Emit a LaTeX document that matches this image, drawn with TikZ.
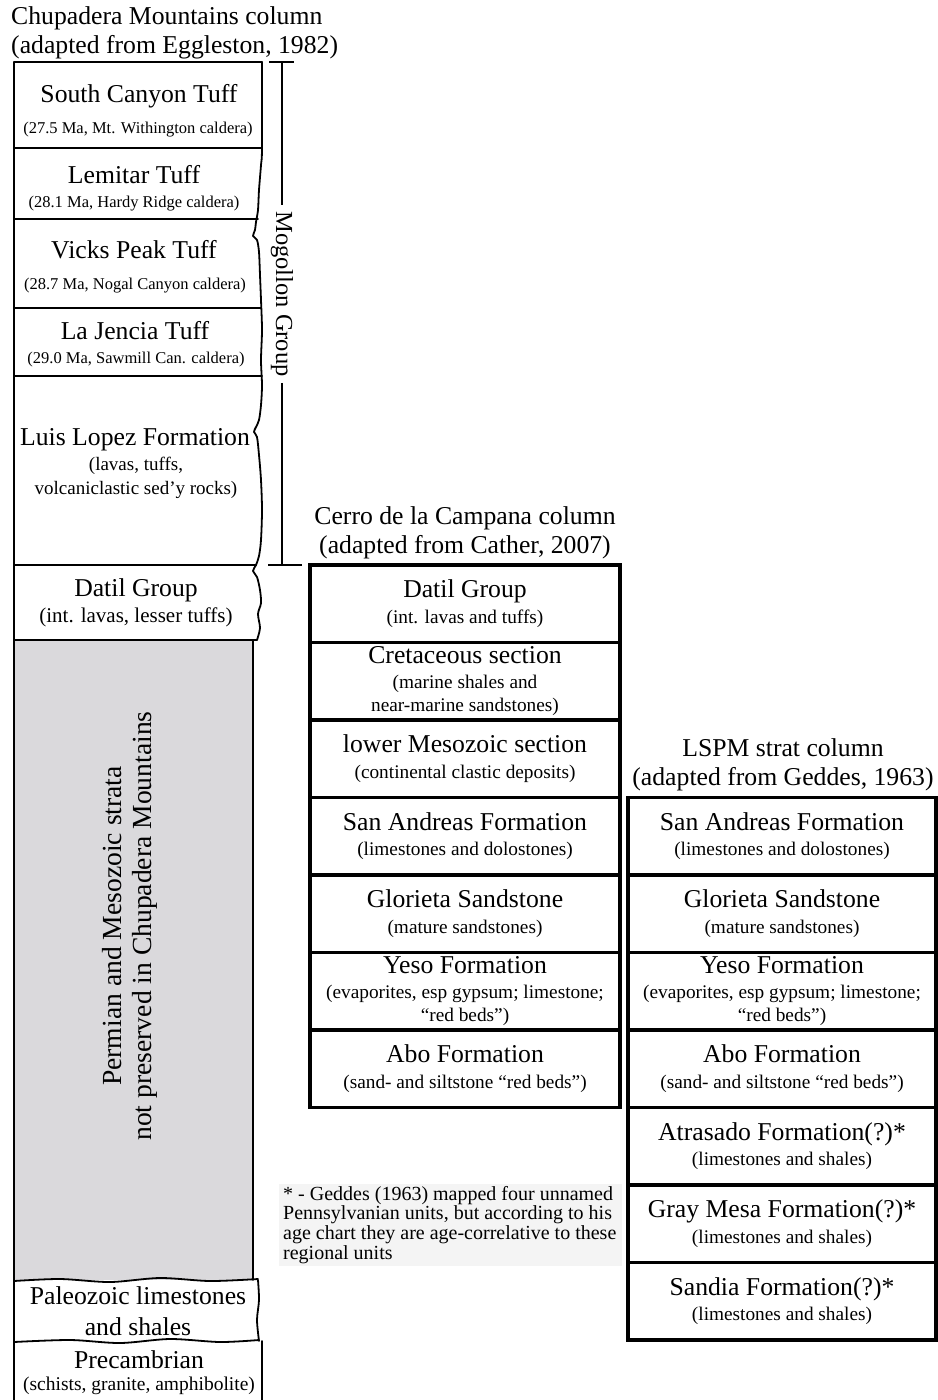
\documentclass[tikz,border=0pt]{standalone}
\usepackage{fontspec}
\setmainfont{Liberation Serif}
\newcommand{\myfs}[2]{\fontsize{#1}{#2}\selectfont}
\newcommand{\mn}[1]{{\myfs{25.7}{28}#1}}
\definecolor{grayfill}{RGB}{218,217,220}
\definecolor{notebg}{RGB}{244,244,244}
\begin{document}
\begin{tikzpicture}[x=1pt,y=-1pt,
  ttl/.style={inner sep=0pt, align=center, font=\myfs{25.7}{29.5}},
  lt/.style={inner sep=0pt, align=center, font=\myfs{25.7}{28}},
  ls/.style={inner sep=0pt, align=center, font=\myfs{#1}{24}},
  colbox/.style={draw, line width=3.2pt, minimum width=310pt, minimum height=77.5pt,
    inner sep=0pt, align=center, font=\myfs{19.3}{23.5}},
  rcolbox/.style={colbox, minimum width=308pt},
  edgeline/.style={line width=1.8pt, line join=round, line cap=round},
  bracket/.style={line width=1.8pt}]
\useasboundingbox[fill=white] (0,0) rectangle (937,1400);

% ---------- Chupadera column ----------
\node[ttl, anchor=west, align=left] (t1) at (11,33) {Chupadera Mountains column\\(adapted from Eggleston, 1982)};

\fill[grayfill] (14,640) rectangle (253,1280);
% left edge and top
\draw[edgeline] (14,1400) -- (14,62) -- (262,62);
% wavy right edge (volcanic units)
\draw[edgeline] plot[smooth, tension=0.5] coordinates {
  (262,62) (262,148) (261,165) (259,190) (258,210) (256,222) (255,230) (253,236)
  (257,240) (259,252) (260,275) (261,300) (262,330) (261,360) (262,385) (261,405)
  (259,420) (256,427) (254,432) (257,437) (259,455) (261,480) (262,510) (261,540)
  (259,556) (256,565) (253,571) (257,577) (260,590) (261,603) (258,614) (260,628) (257,640)};
\draw[edgeline] (253,640) -- (253,1280);
\draw[edgeline] plot[smooth, tension=0.5] coordinates {(258,1280) (259,1300) (257,1320) (259,1341)};
\draw[edgeline] (262,1341) -- (262,1400);
% dividers
\draw[edgeline] (14,148) -- (262,148);
\draw[edgeline] (14,219) -- (258,219);
\draw[edgeline] (14,308) -- (261,308);
\draw[edgeline] (14,376) -- (262,376);
\draw[edgeline] (14,565) -- (256,565);
\draw[edgeline] (14,640) -- (257,640);
\draw[edgeline] plot[smooth, tension=0.5] coordinates {(14,1281) (60,1279) (110,1282) (160,1278) (210,1281) (258,1279)};
\draw[edgeline] plot[smooth, tension=0.5] coordinates {(14,1342) (70,1340) (120,1343) (170,1339) (220,1342) (259,1340)};

\node[lt] (sct) at (139,96) {South Canyon Tuff};
\node[ls=16.5] (scts) at (138,130) {(27.5 Ma, Mt. Withington caldera)};
\node[lt] (lem) at (134,175) {Lemitar Tuff};
\node[ls=16.5] (lems) at (134,204) {(28.1 Ma, Hardy Ridge caldera)};
\node[lt] (vpt) at (134,250) {Vicks Peak Tuff};
\node[ls=16.5] (vpts) at (135,286) {(28.7 Ma, Nogal Canyon caldera)};
\node[lt] (ljt) at (135,331) {La Jencia Tuff};
\node[ls=16.5] (ljts) at (136,360) {(29.0 Ma, Sawmill Can. caldera)};
\node[lt] (llf) at (135,440) {Luis Lopez Formation};
\node[ls=19] (llfs) at (136,478) {(lavas, tuffs,\\volcaniclastic sed’y rocks)};
\node[lt] (dg1) at (136,590) {Datil Group};
\node[ls=21] (dg1s) at (136,617) {(int. lavas, lesser tuffs)};
\node[inner sep=0pt, align=center, rotate=90, font=\myfs{27.6}{30}] (pm) at (130,926)
  {Permian and Mesozoic strata\\not preserved in Chupadera Mountains};
\node[inner sep=0pt, align=center, font=\myfs{25.7}{31}] (pal) at (138,1311) {Paleozoic limestones\\and shales};
\node[lt] (pc) at (139,1360) {Precambrian};
\node[ls=19.5] (pcs) at (139,1386) {(schists, granite, amphibolite)};

% Mogollon Group bracket
\node[lt, rotate=-90, inner sep=6pt, font=\myfs{24.5}{28}] (mog) at (282,294) {Mogollon Group};
\coordinate (mtop) at (282,62);
\coordinate (mbot) at (282,565);
\draw[bracket] (mtop) -- (mog.west);
\draw[bracket] (mog.east) -- (mbot);
\draw[bracket] ([xshift=-13pt]mtop) -- ([xshift=12pt]mtop);
\draw[bracket] ([xshift=-14pt]mbot) -- ([xshift=20pt]mbot);

% ---------- Cerro de la Campana column ----------
\node[ttl] (t2) at (465,533) {Cerro de la Campana column\\(adapted from Cather, 2007)};
\node[colbox] (c1) at (465,603.75) {\mn{Datil Group}\\[2pt](int. lavas and tuffs)};
\node[colbox] (c2) at (465,681.25) {\mn{Cretaceous section}\\[1pt](marine shales and\\near-marine sandstones)};
\node[colbox] (c3) at (465,758.75) {\mn{lower Mesozoic section}\\[2pt](continental clastic deposits)};
\node[colbox] (c4) at (465,836.25) {\mn{San Andreas Formation}\\[2pt](limestones and dolostones)};
\node[colbox] (c5) at (465,913.75) {\mn{Glorieta Sandstone}\\[2pt](mature sandstones)};
\node[colbox] (c6) at (465,991.25) {\mn{Yeso Formation}\\[1pt](evaporites, esp gypsum; limestone;\\“red beds”)};
\node[colbox] (c7) at (465,1068.75) {\mn{Abo Formation}\\[2pt](sand- and siltstone “red beds”)};

% ---------- LSPM column ----------
\node[ttl] (t3) at (783,765) {LSPM strat column\\(adapted from Geddes, 1963)};
\node[rcolbox] (r1) at (782,836.25) {\mn{San Andreas Formation}\\[2pt](limestones and dolostones)};
\node[rcolbox] (r2) at (782,913.75) {\mn{Glorieta Sandstone}\\[2pt](mature sandstones)};
\node[rcolbox] (r3) at (782,991.25) {\mn{Yeso Formation}\\[1pt](evaporites, esp gypsum; limestone;\\“red beds”)};
\node[rcolbox] (r4) at (782,1068.75) {\mn{Abo Formation}\\[2pt](sand- and siltstone “red beds”)};
\node[rcolbox] (r5) at (782,1146.25) {\mn{Atrasado Formation(?)*}\\[2pt](limestones and shales)};
\node[rcolbox] (r6) at (782,1223.75) {\mn{Gray Mesa Formation(?)*}\\[2pt](limestones and shales)};
\node[rcolbox] (r7) at (782,1301.25) {\mn{Sandia Formation(?)*}\\[2pt](limestones and shales)};

% ---------- footnote ----------
\fill[notebg] (279,1184) rectangle (622,1266);
\node[anchor=north west, inner sep=0pt, align=left, font=\myfs{20}{19.7}] (fn) at (283,1186)
  {* - Geddes (1963) mapped four unnamed\\Pennsylvanian units, but according to his\\age chart they are age-correlative to these\\regional units};
\end{tikzpicture}
\end{document}
